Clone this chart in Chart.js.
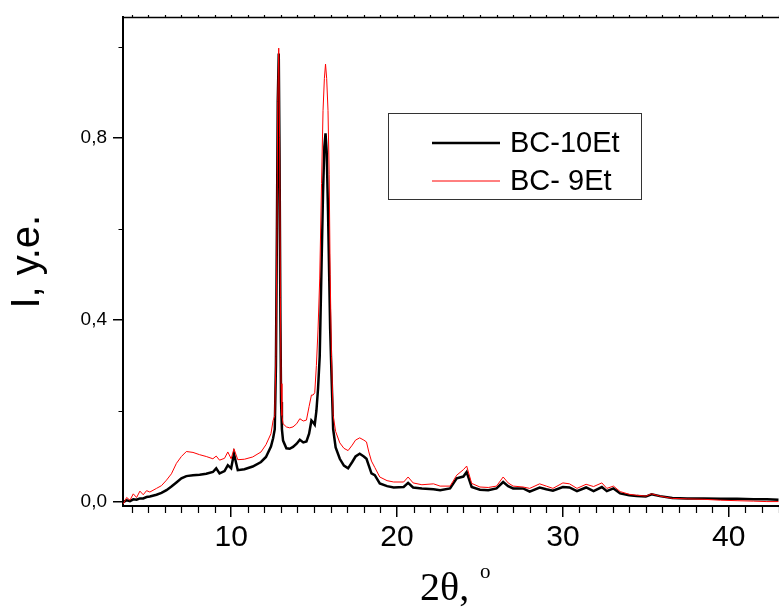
<!DOCTYPE html>
<html lang="ru">
<head>
<meta charset="UTF-8" />
<title>XRD BC-10Et / BC-9Et</title>
<script src="https://cdn.jsdelivr.net/npm/chart.js"></script>
<style>
  html, body { margin: 0; padding: 0; background: #fff; }
  canvas { display: block; }
</style>
</head>
<body>
<canvas id="xrd" width="779" height="608"></canvas>
<script>
  // 2theta, degrees
  const angles = [3.5, 3.7, 3.9, 4.1, 4.3, 4.5, 4.7, 4.9, 5.1, 5.5, 5.8, 6.1, 6.4, 6.7, 7.0, 7.3, 7.7, 8.1, 8.5, 8.9,
    9.1, 9.3, 9.6, 9.8, 10.0, 10.17, 10.4, 10.8, 11.3, 11.8, 12.1, 12.4, 12.53, 12.63, 12.7, 12.76, 12.81, 12.87, 12.92, 12.97,
    13.01, 13.06, 13.13, 13.33, 13.53, 13.73, 13.95, 14.14, 14.35, 14.54, 14.7, 14.84, 14.94, 15.04, 15.14, 15.24, 15.34, 15.45, 15.54, 15.62,
    15.69, 15.76, 15.84, 15.91, 15.97, 16.05, 16.15, 16.3, 16.55, 16.8, 17.05, 17.3, 17.5, 17.75, 18.0, 18.16, 18.3, 18.46, 18.66, 18.96,
    19.4, 19.8, 20.4, 20.67, 20.97, 21.5, 22.2, 22.6, 23.2, 23.6, 24.0, 24.2, 24.5, 25.0, 25.5, 26.0, 26.4, 26.7, 27.0, 27.6,
    28.0, 28.6, 29.0, 29.4, 30.0, 30.4, 30.85, 31.4, 31.85, 32.35, 32.65, 33.05, 33.45, 34.0, 34.45, 35.0, 35.35, 35.85, 36.6, 37.5,
    38.5, 39.5, 40.5, 41.5, 42.3, 43.0];

  const bc10 = [0.000, 0.004, 0.002, 0.006, 0.005, 0.008, 0.008, 0.011, 0.012, 0.016, 0.020, 0.026, 0.034, 0.043, 0.052, 0.057, 0.059, 0.060, 0.062, 0.066,
    0.074, 0.063, 0.068, 0.081, 0.074, 0.106, 0.070, 0.072, 0.078, 0.088, 0.099, 0.122, 0.140, 0.160, 0.30, 0.60, 0.88, 0.985, 0.75, 0.40,
    0.22, 0.16, 0.135, 0.118, 0.117, 0.121, 0.128, 0.137, 0.131, 0.133, 0.150, 0.179, 0.175, 0.170, 0.20, 0.25, 0.32, 0.52, 0.68, 0.78,
    0.81, 0.77, 0.64, 0.50, 0.38, 0.28, 0.16, 0.12, 0.095, 0.080, 0.074, 0.088, 0.100, 0.106, 0.100, 0.095, 0.080, 0.063, 0.059, 0.041,
    0.035, 0.032, 0.033, 0.042, 0.032, 0.030, 0.028, 0.026, 0.030, 0.052, 0.056, 0.066, 0.033, 0.027, 0.026, 0.030, 0.044, 0.035, 0.030, 0.030,
    0.023, 0.032, 0.028, 0.025, 0.033, 0.032, 0.024, 0.032, 0.024, 0.033, 0.024, 0.030, 0.019, 0.015, 0.013, 0.012, 0.017, 0.013, 0.009, 0.008,
    0.008, 0.007, 0.007, 0.006, 0.006, 0.005];

  const bc9 = [-0.004, 0.010, 0.004, 0.018, 0.010, 0.024, 0.016, 0.025, 0.022, 0.030, 0.036, 0.048, 0.062, 0.085, 0.100, 0.111, 0.109, 0.104, 0.100, 0.095,
    0.101, 0.092, 0.096, 0.110, 0.095, 0.117, 0.093, 0.094, 0.099, 0.110, 0.126, 0.150, 0.179, 0.190, 0.32, 0.60, 0.88, 0.997, 0.80, 0.45,
    0.26, 0.19, 0.172, 0.165, 0.163, 0.165, 0.172, 0.183, 0.178, 0.180, 0.210, 0.235, 0.235, 0.240, 0.30, 0.38, 0.49, 0.70, 0.86, 0.93,
    0.962, 0.93, 0.86, 0.72, 0.50, 0.32, 0.19, 0.155, 0.130, 0.118, 0.113, 0.125, 0.136, 0.141, 0.136, 0.132, 0.110, 0.090, 0.076, 0.055,
    0.047, 0.044, 0.044, 0.055, 0.042, 0.038, 0.040, 0.035, 0.035, 0.059, 0.071, 0.079, 0.041, 0.033, 0.032, 0.035, 0.055, 0.042, 0.035, 0.033,
    0.030, 0.040, 0.035, 0.030, 0.042, 0.040, 0.030, 0.039, 0.034, 0.042, 0.030, 0.035, 0.023, 0.017, 0.015, 0.013, 0.018, 0.013, 0.008, 0.007,
    0.006, 0.004, 0.003, 0.002, 0.001, 0.001];

  const seriesNames = ["BC-10Et", "BC- 9Et"];
  const xTicks = [10, 20, 30, 40];
  const yTicks = [0, 0.4, 0.8];

  const sans = '"Liberation Sans", Arial, sans-serif';
  const serif = '"Liberation Serif", "Times New Roman", serif';

  // top frame, minor ticks, x title and legend box
  const frame = {
    id: 'frame',
    afterDraw(chart) {
      const { ctx, chartArea: a, scales: { x, y } } = chart;
      ctx.save();
      ctx.strokeStyle = '#000';
      ctx.lineWidth = 1.5;
      ctx.beginPath();
      ctx.moveTo(a.left, a.top);
      ctx.lineTo(a.right, a.top);
      ctx.stroke();

      ctx.lineWidth = 1.2;
      ctx.beginPath();
      for (let v = Math.ceil(x.min); v <= x.max; v++) {
        const px = Math.round(x.getPixelForValue(v)) + 0.5;
        if (v % 10) {
          ctx.moveTo(px, a.bottom);
          ctx.lineTo(px, a.bottom + 7);
        }
        ctx.moveTo(px, a.top);
        ctx.lineTo(px, a.top - 2.5);
      }
      for (let v = 0.2; v < y.max; v += 0.4) {
        const py = Math.round(y.getPixelForValue(v)) + 0.5;
        ctx.moveTo(a.left, py);
        ctx.lineTo(a.left - 4.5, py);
      }
      ctx.stroke();

      // x title: 2θ, °
      ctx.fillStyle = '#000';
      ctx.textBaseline = 'alphabetic';
      ctx.textAlign = 'left';
      ctx.font = '40px ' + serif;
      ctx.fillText('2θ,', 420, 600);
      ctx.font = '21px ' + serif;
      ctx.fillText('o', 480, 578);

      // legend
      ctx.strokeStyle = '#333';
      ctx.lineWidth = 1;
      ctx.strokeRect(388.5, 113.5, 253, 86);
      const rows = [143, 181];
      chart.data.datasets.forEach((ds, i) => {
        ctx.strokeStyle = ds.borderColor;
        ctx.lineWidth = ds.borderWidth;
        ctx.beginPath();
        ctx.moveTo(432, rows[i]);
        ctx.lineTo(500, rows[i]);
        ctx.stroke();
        ctx.fillStyle = '#000';
        ctx.font = '29px ' + sans;
        ctx.textBaseline = 'middle';
        ctx.fillText(ds.label, 510, rows[i] + 1);
      });
      ctx.restore();
    }
  };

  new Chart(document.getElementById('xrd'), {
    type: 'line',
    data: {
      datasets: [
        {
          label: seriesNames[0],
          data: angles.map((a, i) => ({ x: a, y: bc10[i] })),
          borderColor: '#000000',
          borderWidth: 2.5,
          order: 1
        },
        {
          label: seriesNames[1],
          data: angles.map((a, i) => ({ x: a, y: bc9[i] })),
          borderColor: '#ff0000',
          borderWidth: 1,
          order: 0
        }
      ]
    },
    options: {
      responsive: false,
      animation: false,
      events: [],
      layout: { padding: { top: 15, right: 0, left: 0, bottom: 0 } },
      elements: { point: { radius: 0 }, line: { tension: 0 } },
      plugins: { legend: { display: false }, tooltip: { enabled: false } },
      scales: {
        x: {
          type: 'linear',
          min: 3.48,
          max: 43.03,
          afterFit: s => { s.height = 102; },
          afterBuildTicks: s => { s.ticks = xTicks.map(v => ({ value: v })); },
          border: { display: true, color: '#000', width: 2 },
          grid: { drawOnChartArea: false, drawTicks: true, tickLength: 11, color: '#000', lineWidth: 1.5 },
          ticks: { color: '#000', font: { family: sans, size: 30 }, padding: 3, maxRotation: 0 }
        },
        y: {
          min: -0.0087,
          max: 1.0645,
          afterFit: s => { s.width = 123; },
          afterBuildTicks: s => { s.ticks = yTicks.map(v => ({ value: v })); },
          border: { display: true, color: '#000', width: 2 },
          grid: { drawOnChartArea: false, drawTicks: true, tickLength: 10, color: '#000', lineWidth: 1.5 },
          ticks: { color: '#000', font: { family: sans, size: 19 }, padding: 6,
            callback: v => v.toFixed(1).replace('.', ',') },
          title: { display: true, text: 'I, у.е.', color: '#000', font: { family: sans, size: 40 }, padding: { top: 4, bottom: 0 } }
        }
      }
    },
    plugins: [frame]
  });
</script>
</body>
</html>
